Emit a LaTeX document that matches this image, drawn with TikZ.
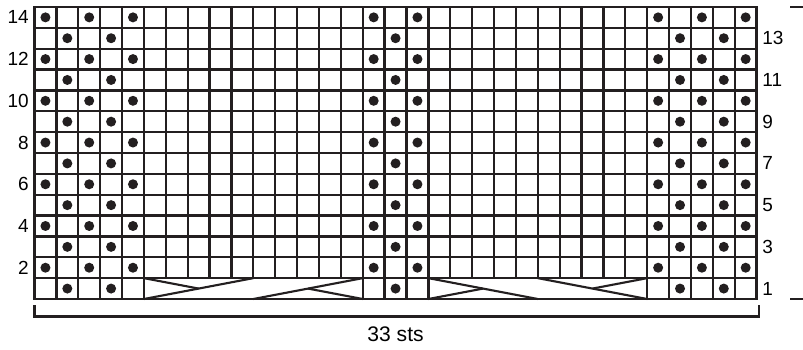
\documentclass[tikz,border=0pt]{standalone}
\usepackage{fontspec}
\setmainfont{Liberation Sans}
\usepackage{xcolor}
\usepackage{tikz}
\usetikzlibrary{positioning}
\definecolor{mInk}{RGB}{35,31,32}

\begin{document}
\begin{tikzpicture}[
    x=0.547cm, y=0.5215cm,
    font=\fontsize{13.5}{15}\selectfont,
    grid/.style={mInk, line width=1.6pt, line cap=rect},
    pt/.style={circle, fill=mInk, inner sep=0pt, minimum size=0.25cm},
    cable/.style={mInk, line width=1.5pt}
]
  \useasboundingbox (-1.577,-2.397) rectangle (35.12,14.333);

  % chart grid
  \foreach \y in {0,...,14} {
    \draw[grid] (0,\y) -- (33,\y);
  }
  \foreach \x in {0,...,33} {
    \draw[grid] (\x,1) -- (\x,14);
  }
  \foreach \x in {0,1,2,3,4,5,15,16,17,18,28,29,30,31,32,33} {
    \draw[grid] (\x,0) -- (\x,1);
  }

  % purl dots
  \foreach \r in {2,4,...,14} {
    \foreach \c in {1,3,5,16,18,29,31,33} {
      \node[pt] (d\c-\r) at (\c-0.5,\r-0.5) {};
    }
  }
  \foreach \r in {1,3,...,13} {
    \foreach \c in {2,4,17,30,32} {
      \node[pt] (d\c-\r) at (\c-0.5,\r-0.5) {};
    }
  }

  % cables in row 1
  \draw[cable] (5,0) -- (10,1);
  \draw[cable] (5,1) -- (7.5,0.5);
  \draw[cable] (10,0) -- (15,1);
  \draw[cable] (12.5,0.5) -- (15,0);
  \draw[cable] (18,1) -- (23,0);
  \draw[cable] (18,0) -- (20.5,0.5);
  \draw[cable] (23,1) -- (28,0);
  \draw[cable] (25.5,0.5) -- (28,1);

  % row numbers
  \foreach \r in {2,4,...,14} {
    \node[anchor=east, inner sep=0pt] (left\r) at (-0.25,\r-0.5) {\r};
  }
  \foreach \r in {1,3,...,13} {
    \node[anchor=west, inner sep=0pt] (right\r) at (33.25,\r-0.5) {\r};
  }

  % width bracket
  \draw[grid, line cap=butt] (0,-0.29) -- (0,-0.84) -- (33.1,-0.84) -- (33.1,-0.29);
  \node[anchor=base, font=\fontsize{15}{17}\selectfont] (sts) at (16.5,-2.05) {33 sts};

  % repeat marks
  \draw[mInk, line width=1.1pt] (34.53,14) -- (35.12,14);
  \draw[mInk, line width=1.1pt] (34.53,0) -- (35.12,0);
\end{tikzpicture}
\end{document}
